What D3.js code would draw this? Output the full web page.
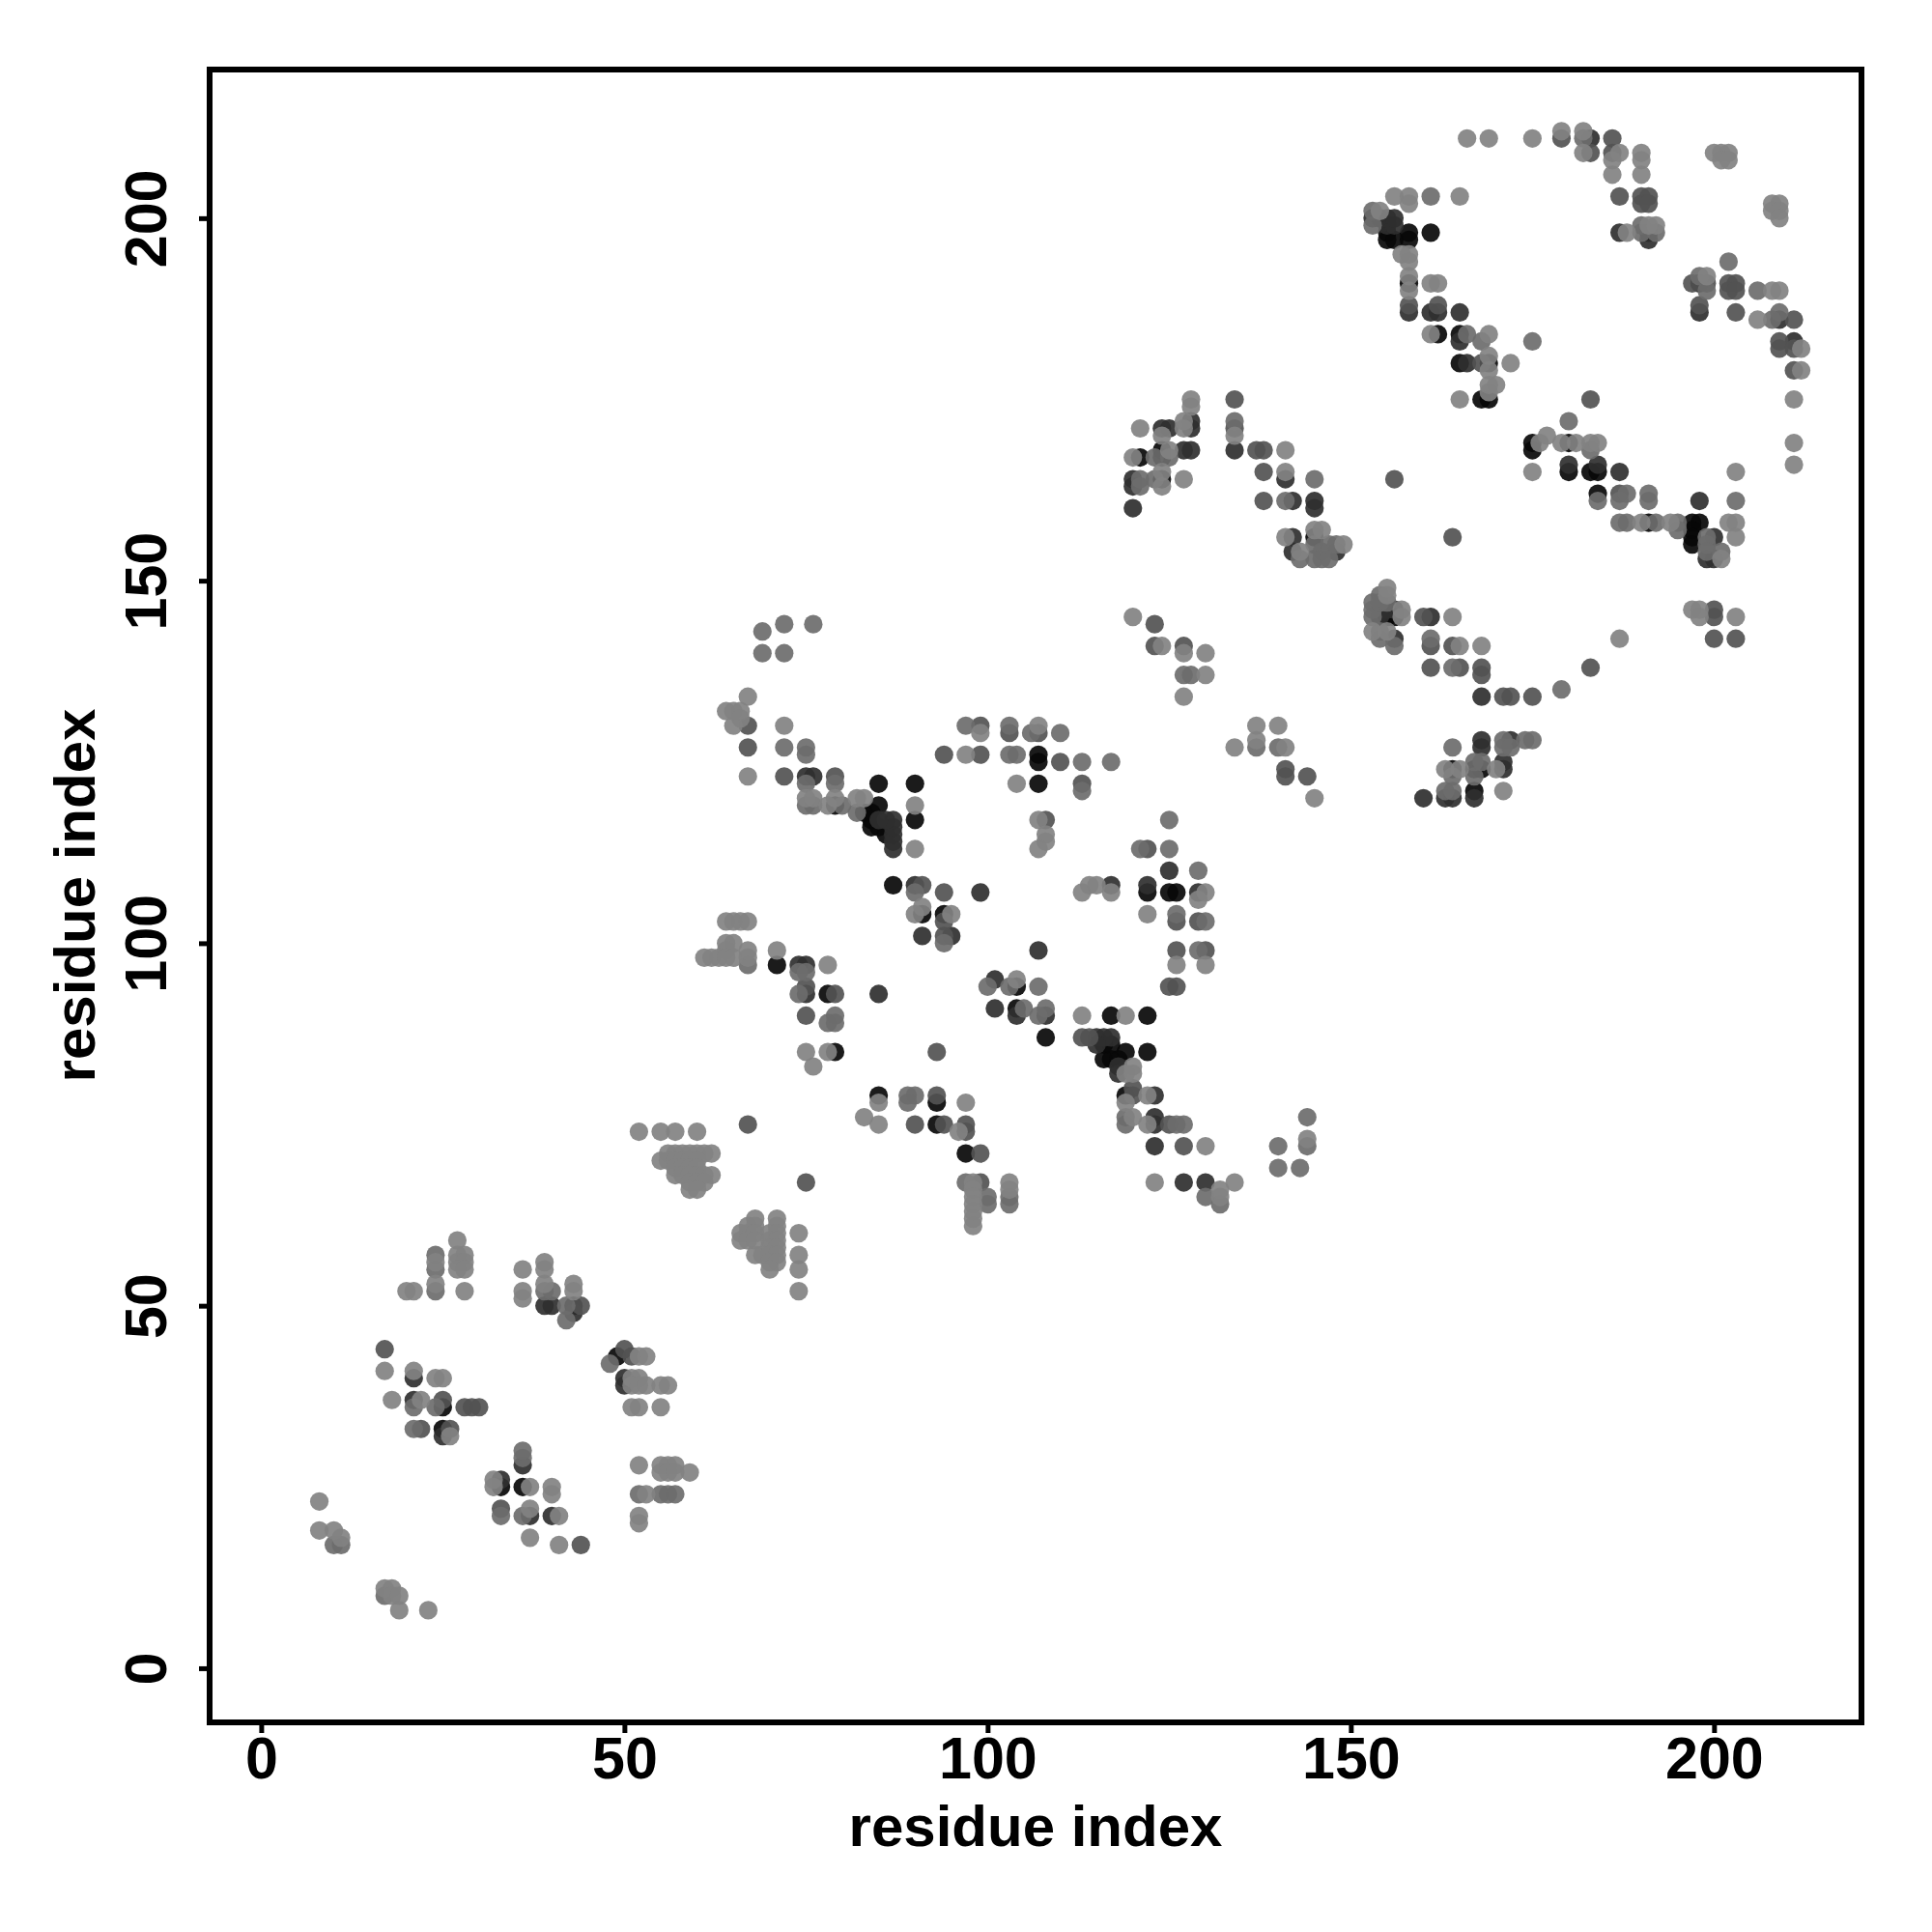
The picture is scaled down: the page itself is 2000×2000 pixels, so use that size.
<!DOCTYPE html>
<html><head><meta charset="utf-8"><script src="https://cdn.jsdelivr.net/npm/d3@7"></script>
<style>html,body{margin:0;background:#fff}svg{display:block}text{font-family:"Liberation Sans",Arial,sans-serif;font-weight:700;fill:#000}</style></head>
<body><svg id="c" width="2000" height="2000"></svg>
<script>
const xTicks=[0,50,100,150,200];
const yTicks=[0,50,100,150,200];
const axisTitle="residue index";
const levelGreys=["#080808","#2f2f2f","#525252","#6c6c6c","#828282"];
const contactsBlack=[[43,50],[49,43],[25,36],[25,33],[33,25],[36,25],[71,97],[78,93],[79,85],[85,79],[93,78],[93,75],[97,71],[104,94],[104,91],[108,87],
[85,122],[90,122],[85,119],[83,118],[84,118],[84,117],[84,116],[85,116],[86,115],[90,117],[87,108],[91,104],[94,104],[79,119],[107,126],[107,125],[107,122],
[125,107],[126,107],[122,107],[117,90],[122,90],[119,85],[122,85],[116,84],[117,84],[118,84],[116,86],[117,86],[119,79],
[121,167],[124,168],[124,167],[124,164],[145,156],[168,175],[169,175],[167,124],[168,124],[164,124],[167,121],[155,198],[155,197],[156,197],[158,198],[158,197],[161,198],[158,191],[162,184],[165,184],[165,180],[169,180],[175,169],[175,168],[180,169],[180,165],[183,165],[184,165],[184,162],[191,158],[197,158],[198,158],[197,157],[197,156],[197,155],[198,191],[191,198],[155,145],[156,145]];
const contactsDark=[[39,50],[40,50],[43,49],[21,40],[21,37],[33,26],[36,28],[37,21],[40,21],[25,32],[50,40],[50,39],[87,113],[87,114],[87,115],[87,116],[87,117],[86,117],[85,117],[75,123],[76,123],[74,97],[75,97],[75,93],[85,93],[99,107],[107,99],[101,95],[101,91],[104,90],[108,90],[90,108],[91,101],[95,101],[122,108],[117,108],[125,110],[129,107],[115,87],[116,87],[117,87],[115,86],[118,83],[118,82],[123,79],[123,76],[123,75],[123,72],[127,67],[130,67],[120,164],[120,163],[120,160],[128,172],[128,171],[124,171],[125,171],[127,168],[128,168],[134,168],[142,161],[145,161],[145,160],[142,156],[141,164],[161,145],[156,142],[142,154],[148,154],[168,134],[168,128],[168,127],[172,128],[171,125],[171,124],[160,120],[163,120],[164,120],[167,120],[153,200],[154,200],[155,199],[155,200],[156,199],[156,200],[161,187],[165,187],[158,187],[162,187],[165,183],[166,180],[187,198],[191,197],[183,211],[180,166],[184,166],[187,165],[198,187],[209,186],[211,183],[198,161],[200,156],[199,153],[200,153],[154,146],[155,146],[156,146],[154,145]];
const contactsMid=[[17,44],[44,50],[50,44],[51,43],[25,37],[28,36],[29,36],[30,36],[22,33],[26,33],[33,22],[44,17],[67,75],[75,67],[75,94],[75,90],[79,93],[93,85],[90,75],[94,75],[97,75],[97,74],[93,79],[99,71],[99,67],[67,130],[67,127],[72,123],[79,123],[99,130],[103,129],[107,129],[94,126],[99,126],[110,125],[113,122],[108,117],[91,108],[94,107],[94,103],[94,101],[122,113],[125,94],[126,103],[129,103],[126,99],[130,99],[126,94],[125,75],[127,72],[113,87],[114,87],[120,80],[120,79],[138,165],[138,161],[134,175],[134,171],[137,168],[138,168],[156,164],[164,156],[161,141],[164,141],[160,145],[161,138],[165,138],[168,138],[168,137],[172,134],[175,134],[183,138],[183,175],[203,187],[187,203],[190,203],[191,203],[190,202],[191,202],[186,209],[179,211],[183,209],[158,188],[162,188],[211,186],[168,180],[123,141],[127,141],[123,144],[141,124],[141,123],[144,123],[200,145],[200,146],[200,142],[203,142],[202,191],[203,191],[202,190],[203,190],[197,191],[199,191],[198,188],[186,211],[209,183],[209,182],[211,182],[211,179],[187,162],[171,134]];
const contactsGrey=[[24,57],[24,55],[24,52],[36,29],[36,30],[24,36],[21,36],[21,33],[33,21],[36,21],[48,42],[42,48],[42,50],[39,52],[40,52],[52,24],[55,24],[56,24],[57,24],[17,10],[10,17],[11,17],[67,97],[74,96],[75,96],[74,93],[79,90],[78,89],[79,89],[89,79],[90,79],[89,78],[97,67],[100,65],[100,64],[103,64],[103,65],[69,143],[72,144],[69,140],[72,140],[76,144],[72,127],[75,127],[75,126],[75,122],[79,122],[75,119],[76,119],[80,119],[82,118],[97,130],[103,130],[106,129],[110,129],[94,126],[103,126],[104,126],[113,125],[113,121],[117,125],[90,107],[94,100],[121,113],[125,113],[125,117],[129,110],[126,104],[130,103],[129,99],[100,94],[103,94],[107,94],[107,90],[108,91],[105,91],[119,76],[119,75],[126,75],[127,75],[140,72],[144,72],[144,76],[140,69],[143,69],[130,65],[132,64],[121,164],[121,163],[123,164],[123,167],[125,167],[134,172],[141,161],[145,164],[127,137],[128,137],[137,127],[140,127],[145,155],[145,153],[146,154],[146,153],[147,153],[147,155],[148,155],[143,153],[153,147],[153,146],[153,145],[154,148],[154,147],[155,147],[154,143],[154,142],[156,141],[161,142],[164,138],[163,121],[164,121],[164,123],[167,123],[174,128],[175,128],[164,127],[171,127],[202,194],[203,161],[184,161],[187,161],[188,162],[191,161],[191,162],[188,158],[192,158],[195,158],[195,157],[187,158],[179,135],[180,172],[175,183],[198,192],[199,190],[206,190],[209,187],[208,186],[161,203],[153,199],[153,201],[168,183],[166,184],[182,211],[190,199],[192,198],[190,198],[167,125],[168,125],[171,128],[172,127],[201,154],[199,156],[199,155],[199,154],[183,168]];
const contactsLight=[[8,23],[8,19],[10,19],[11,18],[17,11],[18,11],[18,10],[19,10],[19,8],[23,8],[27,59],[24,56],[24,53],[20,52],[21,52],[28,52],[27,57],[28,57],[27,56],[28,56],[27,55],[28,55],[36,55],[36,52],[36,51],[39,56],[39,55],[39,53],[43,53],[43,52],[52,43],[53,43],[51,40],[52,40],[51,39],[52,39],[53,39],[55,39],[56,39],[51,36],[52,36],[55,36],[17,41],[21,41],[24,40],[25,40],[18,37],[22,37],[26,32],[32,26],[32,25],[37,25],[40,25],[40,24],[37,22],[41,21],[37,18],[41,17],[52,28],[55,28],[56,28],[57,28],[55,27],[56,27],[57,27],[59,27],[53,24],[52,21],[52,20],
[52,74],[55,74],[57,74],[60,74],[56,71],[57,71],[58,71],[59,71],[60,71],[61,71],[62,71],[55,70],[56,70],[57,70],[58,70],[59,70],[60,70],[57,69],[58,69],[59,69],[60,69],[57,68],[58,68],[59,68],[60,68],[61,68],[62,68],[59,67],[60,67],[61,67],[59,66],[60,66],[68,62],[71,62],[71,61],[67,61],[68,61],[66,60],[67,60],[68,60],[70,60],[71,60],[66,59],[67,59],[68,59],[70,59],[71,59],[70,58],[71,58],[68,57],[69,57],[70,57],[71,57],[70,56],[71,56],[70,55],[74,60],[74,57],[74,55],[74,52],[98,67],[98,66],[98,65],[98,64],[98,63],[98,62],[98,61],[103,67],[103,66],[75,85],[78,85],[76,83],[78,97],[97,78],[96,74],[85,78],[83,76],[85,75],[64,103],[65,103],[66,103],[67,103],[64,100],[65,100],[64,99],[61,98],[62,98],[63,98],[64,98],[65,98],[67,99],[67,98],[71,99],
[67,134],[64,132],[65,132],[66,132],[65,130],[66,131],[72,130],[67,123],[75,120],[76,120],[78,119],[79,120],[82,120],[83,120],[90,119],[90,113],[91,105],[95,104],[90,104],[97,126],[99,129],[107,130],[104,122],[107,117],[108,115],[108,114],[107,113],[120,145],[124,141],[127,140],[130,140],[130,137],[127,134],[113,107],[114,108],[115,108],[117,107],[113,90],[119,90],[122,104],[130,107],[129,106],[130,97],[126,97],[120,83],[120,82],[119,82],[119,78],[120,76],[122,79],[122,75],[130,72],[123,67],[134,67],[132,66],[132,65],[144,73],[104,95],
[128,175],[128,174],[127,172],[127,171],[121,171],[124,170],[120,167],[125,168],[124,165],[124,163],[127,164],[134,170],[141,168],[141,165],[145,157],[146,157],[149,155],[141,156],[143,154],[155,149],[155,148],[157,146],[157,145],[155,143],[153,143],[164,145],[165,141],[168,141],[137,130],[140,130],[134,127],[137,128],[141,127],[145,120],[165,124],[170,124],[171,121],[163,124],[165,175],[169,176],[170,177],[169,177],[169,179],[172,180],[169,181],[169,184],[161,184],[161,191],[162,191],[158,192],[158,190],[157,195],[158,195],[158,194],[156,203],[158,203],[158,202],[165,203],[154,201],
[166,211],[169,211],[175,211],[179,212],[182,212],[182,209],[187,209],[186,208],[186,206],[190,209],[190,208],[190,206],[192,199],[191,199],[188,198],[200,209],[201,209],[202,209],[201,208],[202,208],[208,202],[209,202],[208,201],[209,201],[209,200],[199,192],[208,190],[209,190],[206,186],[212,182],[212,179],[211,175],[211,169],[211,166],[203,165],[202,158],[203,158],[203,156],[197,146],[198,146],[198,145],[203,145],[175,165],[177,170],[176,169],[179,169],[181,169],[183,169],[184,169],[190,158],[194,158],[201,153],[187,142]];
const contactsLevels=[contactsBlack,contactsDark,contactsMid,contactsGrey,contactsLight];

const svg=d3.select("#c");
const x=d3.scaleLinear().domain([-7.1,220.3]).range([217,1927]);
const y=d3.scaleLinear().domain([-7.47,220.1]).range([1783,75]);
const seen=new Set();
contactsLevels.forEach((pts,i)=>{
  const fresh=pts.filter(d=>{const k=d.join(",");if(seen.has(k))return false;seen.add(k);return true;});
  svg.append("g").selectAll("circle").data(fresh).join("circle")
    .attr("cx",d=>x(d[0])).attr("cy",d=>y(d[1])).attr("r",9.6)
    .attr("fill",levelGreys[i]).attr("fill-opacity",0.92);
});
const ax=svg.append("g").attr("transform","translate(0,1783)").call(d3.axisBottom(x).tickValues(xTicks).tickSize(11).tickSizeOuter(0));
ax.select(".domain").remove();
ax.selectAll(".tick line").attr("stroke","#000").attr("stroke-width",5);
ax.selectAll(".tick text").attr("y",0).attr("dy",0).attr("transform","translate(0,58)").attr("font-size",61).style("font-family",'"Liberation Sans"').style("font-weight",700).attr("text-anchor","middle");
const ay=svg.append("g").attr("transform","translate(217,0)").call(d3.axisLeft(y).tickValues(yTicks).tickSize(11).tickSizeOuter(0));
ay.select(".domain").remove();
ay.selectAll(".tick line").attr("stroke","#000").attr("stroke-width",5);
ay.selectAll(".tick text").attr("x",0).attr("dy",0).attr("y",0).attr("transform","translate(-45,0) rotate(-90)").attr("font-size",61).style("font-family",'"Liberation Sans"').style("font-weight",700).attr("text-anchor","middle");
svg.append("rect").attr("x",217).attr("y",72).attr("width",1710).attr("height",1711).attr("fill","none").attr("stroke","#000").attr("stroke-width",6);
svg.append("text").attr("x",1072).attr("y",1911).attr("text-anchor","middle").attr("font-size",60).text(axisTitle);
svg.append("text").attr("transform","translate(98,927) rotate(-90)").attr("text-anchor","middle").attr("font-size",60).text(axisTitle);
</script></body></html>
